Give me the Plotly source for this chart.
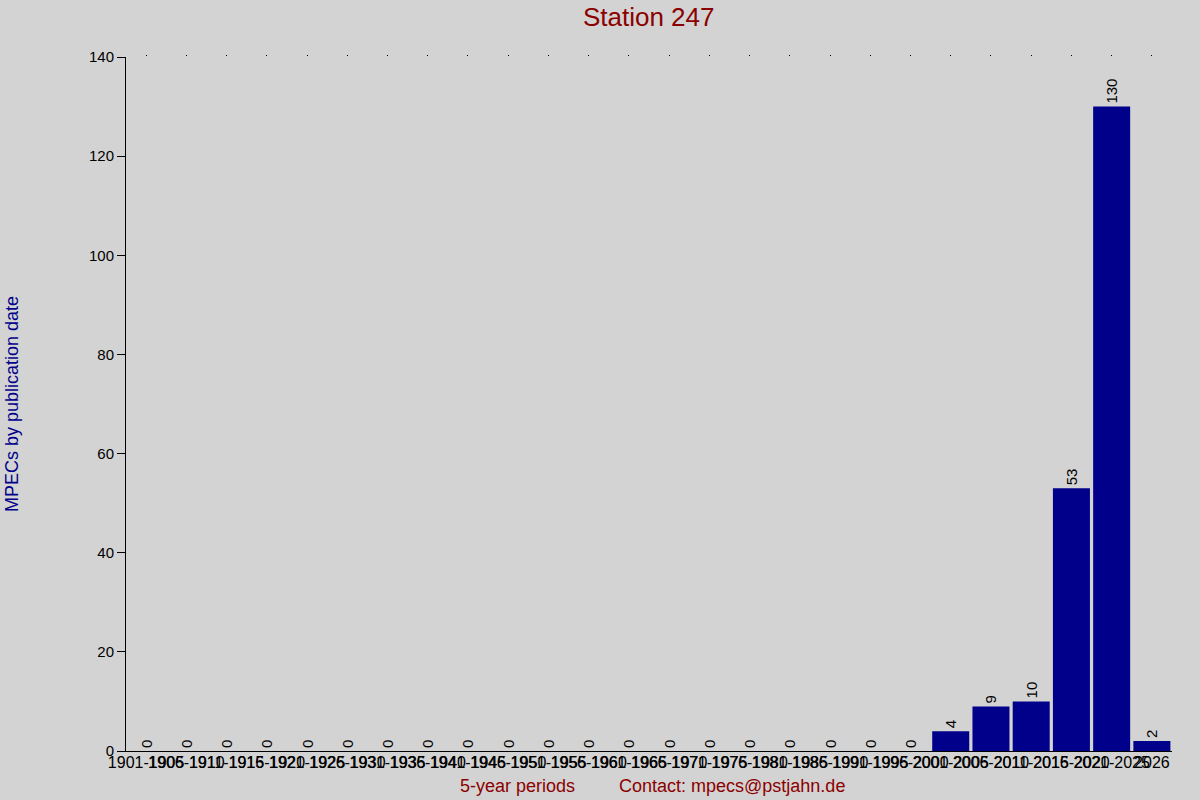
import plotly.graph_objects as go

# 5-year periods and MPEC counts
periods = [f"{y}-{y + 4}" for y in range(1901, 2022, 5)] + ["2026"]
counts = [0] * 20 + [4, 9, 10, 53, 130, 2]
y_ticks = [0, 20, 40, 60, 80, 100, 120, 140]

BG = "#d3d3d3"
FONT = "Liberation Sans, Arial, sans-serif"

fig = go.Figure()
fig.add_trace(go.Bar(
    x=periods, y=counts,
    marker=dict(color="#00008b", line=dict(width=0)),
    width=0.92,
    text=[str(c) for c in counts],
    textposition="outside", textangle=-90,
    textfont=dict(family=FONT, size=15, color="black"),
    constraintext="none", cliponaxis=False,
    showlegend=False,
))
# invisible trace so the top axis (dotted ticks) gets drawn
fig.add_trace(go.Scatter(x=periods, y=[None] * len(periods), xaxis="x2",
                         mode="markers", showlegend=False, hoverinfo="skip"))

fig.update_layout(
    width=1200, height=800,
    paper_bgcolor=BG, plot_bgcolor=BG,
    margin=dict(l=126, r=28, t=57, b=49),
    font=dict(family=FONT, size=15, color="black"),
    title=dict(text="Station 247", x=0.5406, xanchor="center", y=0.979, yanchor="middle",
               font=dict(family=FONT, size=26, color="#8b0000")),
    xaxis=dict(
        type="category", categoryorder="array", categoryarray=periods,
        range=[-0.5, len(periods) - 0.5],
        showline=True, linecolor="black", linewidth=1,
        showgrid=False, zeroline=False, ticks="",
        tickfont=dict(family=FONT, size=16, color="black"),
        tickangle=0, automargin=False, ticklabelstandoff=-3,
    ),
    xaxis2=dict(
        type="category", categoryorder="array", categoryarray=periods,
        range=[-0.5, len(periods) - 0.5],
        overlaying="x", side="top", showline=False, showgrid=False,
        ticks="outside", ticklen=1, tickwidth=1, tickcolor="black",
        showticklabels=False, zeroline=False,
    ),
    yaxis=dict(
        range=[0, 140], tickvals=y_ticks,
        showline=True, linecolor="black", linewidth=1,
        ticks="outside", ticklen=8, tickcolor="black",
        showgrid=False, zeroline=False,
        tickfont=dict(family=FONT, size=15, color="black"),
        automargin=False,
    ),
    annotations=[
        dict(text="MPECs by publication date", xref="paper", yref="paper",
             x=-0.109, y=0.5, xanchor="center", yanchor="middle", textangle=-90,
             showarrow=False, font=dict(family=FONT, size=18, color="#00008b")),
        dict(text="5-year periods", xref="paper", yref="paper",
             x=0.374, y=-0.0504, xanchor="center", yanchor="middle",
             showarrow=False, font=dict(family=FONT, size=18, color="#8b0000")),
        dict(text="Contact: mpecs@pstjahn.de", xref="paper", yref="paper",
             x=0.579, y=-0.0504, xanchor="center", yanchor="middle",
             showarrow=False, font=dict(family=FONT, size=18, color="#8b0000")),
    ],
)

# drop the page's default body margin so the 1200x800 figure fills the window
fig.write_html("out.html", config={"displayModeBar": False},
               post_script="document.body.style.margin='0';")
